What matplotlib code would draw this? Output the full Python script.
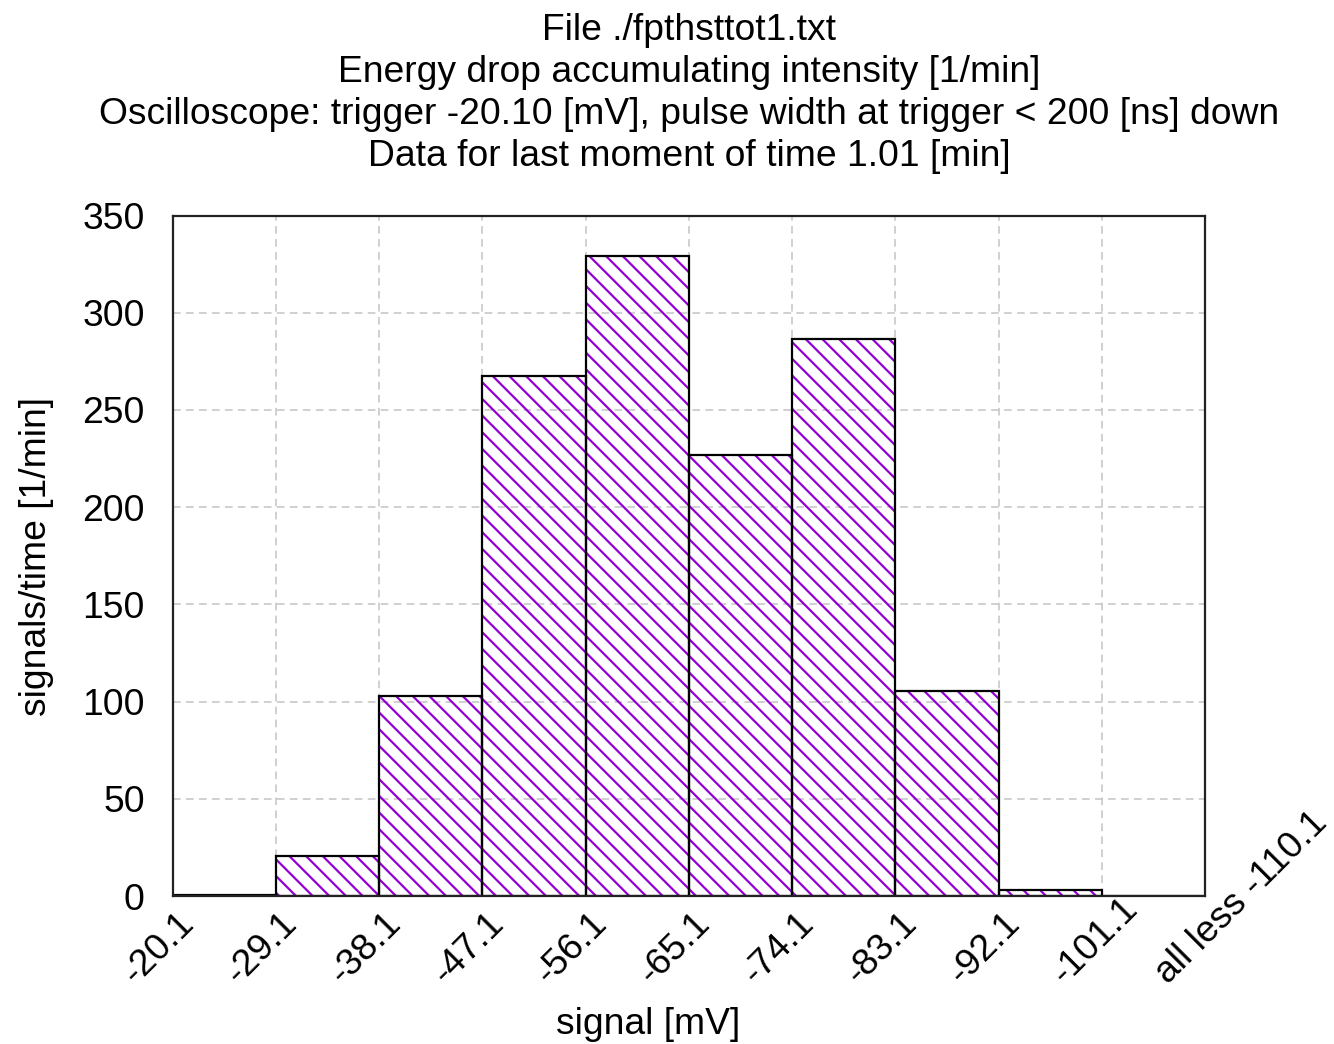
import matplotlib
matplotlib.use("Agg")
import matplotlib.pyplot as plt
import matplotlib.transforms as mtransforms

plt.rcParams["font.family"] = ["Liberation Sans", "DejaVu Sans"]
plt.rcParams["hatch.linewidth"] = 1.6

# histogram of signal amplitudes, 10 bins of 9 mV
edge_labels = ["-20.1", "-29.1", "-38.1", "-47.1", "-56.1", "-65.1",
               "-74.1", "-83.1", "-92.1", "-101.1", "all less -110.1"]
rates = [0.5, 20.4, 102.7, 267.7, 329.2, 226.7, 286.4, 105.3, 2.9, 0.0]

title_lines = [
    "File ./fpthsttot1.txt",
    "Energy drop accumulating intensity [1/min]",
    "Oscilloscope: trigger -20.10 [mV], pulse width at trigger < 200 [ns] down",
    "Data for last moment of time 1.01 [min]",
]

FS = 26.8
PURPLE = "#9400D3"

fig = plt.figure(figsize=(13.34, 10.44), dpi=100)
ax = fig.add_axes([172.5 / 1334, 1 - 896 / 1044, (1205 - 172.5) / 1334, (896 - 215.5) / 1044])

centers = [i + 0.5 for i in range(len(rates))]
ax.bar(centers, rates, width=1.0, facecolor="none", edgecolor=PURPLE,
       hatch="\\\\", linewidth=0, zorder=2)
ax.bar(centers, rates, width=1.0, fill=False, edgecolor="black",
       linewidth=1.6, zorder=3)

ax.set_xlim(0, len(edge_labels) - 1)
ax.set_ylim(0, 350)
ax.set_yticks(range(0, 351, 50))
ax.set_xticks(range(len(edge_labels)))
ax.set_xticklabels(edge_labels)
ax.tick_params(axis="both", length=0, labelsize=FS)
ax.tick_params(axis="y", pad=20)
ax.tick_params(axis="x", pad=0)

offset = mtransforms.ScaledTranslation(-0.37, -0.89, fig.dpi_scale_trans)
for lab in ax.get_xticklabels():
    lab.set_rotation(45)
    lab.set_rotation_mode("anchor")
    lab.set_ha("left")
    lab.set_va("baseline")
    lab.set_transform(lab.get_transform() + offset)

ax.grid(True, color="#c4c4c4", linestyle=(0, (5, 3.5)), linewidth=1.1, zorder=0)
ax.set_axisbelow(True)
for sp in ax.spines.values():
    sp.set_linewidth(1.6)
    sp.set_color("#222222")
    sp.set_zorder(4)

fig.text(689 / 1334, 1 - 13 / 1044, "\n".join(title_lines), ha="center", va="top",
         fontsize=FS, linespacing=1.26)
fig.text(37 / 1334, 1 - 557 / 1044, "signals/time [1/min]", rotation=90,
         ha="center", va="center", fontsize=FS)
fig.text(648 / 1334, 1 - 1025 / 1044, "signal [mV]", ha="center", va="center",
         fontsize=FS)

fig.savefig("out.png", dpi=100)
